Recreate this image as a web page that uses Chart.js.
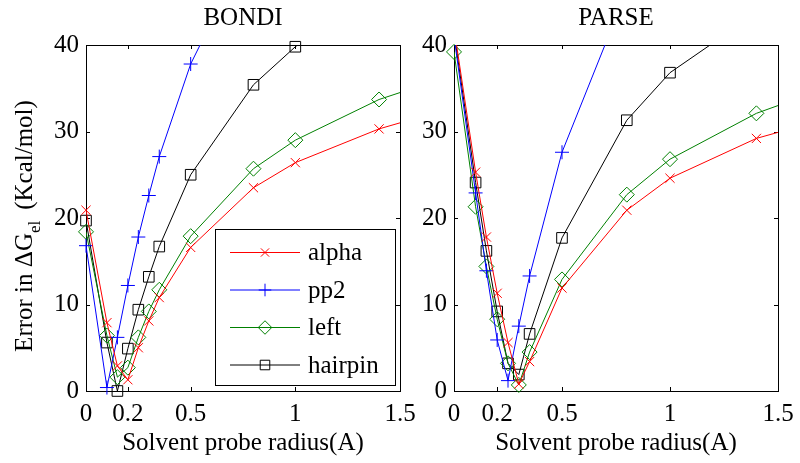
<!DOCTYPE html>
<html>
<head>
<meta charset="utf-8">
<script src="https://cdn.jsdelivr.net/npm/chart.js@4.4.0/dist/chart.umd.min.js"></script>
<style>
  html, body { margin: 0; padding: 0; background: #fff; }
  #wrap { position: relative; width: 800px; height: 463px; }
  canvas { position: absolute; left: 0; top: 0; }
</style>
</head>
<body>
<div id="wrap">
  <canvas id="bondi" width="800" height="463"></canvas>
  <canvas id="parse" width="800" height="463"></canvas>
</div>
<script>
// probe radius (A) where errors were computed
const radii = [0, 0.1, 0.15, 0.2, 0.25, 0.3, 0.35, 0.5, 0.8, 1, 1.4, 2];
const xTicks = [0, 0.2, 0.5, 1, 1.5];
const yTicks = [0, 10, 20, 30, 40];
const seriesNames = ['alpha', 'pp2', 'left', 'hairpin'];

// BONDI radii
const bondiAlpha   = [20.9, 7.9, 2.9, 1.3, 5.0, 8.1, 10.8, 16.6, 23.5, 26.4, 30.3, 34.5];
const bondiPp2     = [16.8, 0.4, 6.2, 12.2, 17.8, 22.6, 27.1, 37.8, 52.5, null, null, null];
const bondiLeft    = [18.4, 6.4, 1.6, 2.7, 6.2, 9.2, 11.7, 17.9, 25.7, 29.0, 33.7, 38.5];
const bondiHairpin = [19.7, 5.6, 0.0, 4.9, 9.4, 13.2, 16.7, 25.0, 35.4, 39.8, 47.0, null];

// PARSE radii
const parseAlpha   = [42.0, 25.3, 17.8, 11.3, 5.6, 0.8, 3.4, 11.9, 20.9, 24.6, 29.2, 33.4];
const parsePp2     = [41.0, 22.9, 13.9, 5.9, 1.2, 7.5, 13.3, 27.6, 46.3, null, null, null];
const parseLeft    = [39.2, 21.3, 14.4, 8.3, 3.2, 0.7, 4.5, 12.9, 22.7, 26.8, 32.1, 37.5];
const parseHairpin = [41.5, 24.1, 16.2, 9.2, 3.2, 1.9, 6.6, 17.7, 31.3, 36.8, 43.7, null];

const FONT = 'Liberation Serif';
const styles = {
  alpha:   { color: '#ff0000', point: 'crossRot', r: 6.5 },
  pp2:     { color: '#0000ff', point: 'cross',    r: 7 },
  left:    { color: '#008000', point: 'rectRot',  r: 7.5 },
  hairpin: { color: '#000000', point: 'rect',     r: 7.5 }
};

// small marker painter used by the legend
function drawMarker(ctx, style, x, y, r) {
  ctx.beginPath();
  if (style === 'crossRot') {
    const d = r * Math.SQRT1_2;
    ctx.moveTo(x - d, y - d); ctx.lineTo(x + d, y + d);
    ctx.moveTo(x - d, y + d); ctx.lineTo(x + d, y - d);
  } else if (style === 'cross') {
    ctx.moveTo(x - r, y); ctx.lineTo(x + r, y);
    ctx.moveTo(x, y - r); ctx.lineTo(x, y + r);
  } else if (style === 'rectRot') {
    ctx.moveTo(x - r, y); ctx.lineTo(x, y - r); ctx.lineTo(x + r, y); ctx.lineTo(x, y + r);
    ctx.closePath();
  } else {
    const s = r * Math.SQRT1_2;
    ctx.rect(x - s, y - s, 2 * s, 2 * s);
  }
  ctx.stroke();
}

// box with inward ticks, title, y label and legend
const framePlugin = {
  id: 'frame',
  beforeDatasetsDraw(chart) {
    const ctx = chart.ctx;
    const a = chart.chartArea;
    const xs = chart.scales.x, ys = chart.scales.y;
    ctx.save();
    ctx.strokeStyle = '#000';
    ctx.lineWidth = 1;
    ctx.strokeRect(Math.round(a.left) + 0.5, Math.round(a.top) + 0.5,
      Math.round(a.right - a.left), Math.round(a.bottom - a.top));
    ctx.beginPath();
    xTicks.forEach(v => {
      const px = Math.round(xs.getPixelForValue(v)) + 0.5;
      ctx.moveTo(px, a.bottom); ctx.lineTo(px, a.bottom - 4);
      ctx.moveTo(px, a.top); ctx.lineTo(px, a.top + 4);
    });
    yTicks.forEach(v => {
      const py = Math.round(ys.getPixelForValue(v)) + 0.5;
      ctx.moveTo(a.left, py); ctx.lineTo(a.left + 4, py);
      ctx.moveTo(a.right, py); ctx.lineTo(a.right - 4, py);
    });
    ctx.stroke();
    ctx.restore();
  },
  afterDraw(chart, args, opts) {
    const ctx = chart.ctx;
    const a = chart.chartArea;
    ctx.save();
    ctx.fillStyle = '#000';
    ctx.font = '25px "' + FONT + '"';
    ctx.textAlign = 'center';
    ctx.textBaseline = 'alphabetic';
    ctx.fillText(opts.title, (a.left + a.right) / 2, 25);

    if (opts.yLabel) {
      const big = '25px "' + FONT + '"', small = '17px "' + FONT + '"';
      const p1 = 'Error in \u0394G', p2 = 'el', p3 = '(Kcal/mol)';
      ctx.font = big; const w1 = ctx.measureText(p1).width, w3 = ctx.measureText(p3).width;
      ctx.font = small; const w2 = ctx.measureText(p2).width;
      const gap = 11;
      const total = w1 + w2 + gap + w3;
      ctx.translate(32, 226);
      ctx.rotate(-Math.PI / 2);
      ctx.textAlign = 'left';
      let x = -total / 2;
      ctx.font = big; ctx.fillText(p1, x, 0); x += w1;
      ctx.font = small; ctx.fillText(p2, x, 8); x += w2 + gap;
      ctx.font = big; ctx.fillText(p3, x, 0);
      ctx.setTransform(1, 0, 0, 1, 0, 0);
    }

    if (opts.legend) {
      const bx = a.right - 185, by = a.top + 184, bw = 180, bh = 156;
      ctx.fillStyle = '#fff';
      ctx.fillRect(bx, by, bw, bh);
      ctx.strokeStyle = '#000';
      ctx.lineWidth = 1;
      ctx.strokeRect(bx + 0.5, by + 0.5, bw, bh);
      ctx.font = '25px "' + FONT + '"';
      ctx.textAlign = 'left';
      ctx.textBaseline = 'middle';
      seriesNames.forEach((name, i) => {
        const st = styles[name];
        const y = by + 23.5 + i * 37.5;
        ctx.strokeStyle = st.color;
        ctx.beginPath();
        ctx.moveTo(bx + 15, y); ctx.lineTo(bx + 85, y);
        ctx.stroke();
        drawMarker(ctx, st.point, bx + 50, y, st.r * 0.9);
        ctx.fillStyle = '#000';
        ctx.fillText(name, bx + 93, y + 1);
      });
    }
    ctx.restore();
  }
};

function buildDatasets(values) {
  const sets = [];
  seriesNames.forEach((name, i) => {
    const st = styles[name];
    const pts = radii.map((x, k) => ({ x: x, y: values[i][k] }));
    sets.push({
      label: name,
      data: pts,
      borderColor: st.color,
      borderWidth: 1,
      pointRadius: 0,
      spanGaps: false
    });
    sets.push({
      label: name + ' markers',
      data: pts.filter(p => p.y !== null && p.y <= 40 && p.x <= 1.5),
      showLine: false,
      clip: false,
      borderColor: st.color,
      backgroundColor: 'rgba(0,0,0,0)',
      pointStyle: st.point,
      pointRadius: st.r,
      pointBorderWidth: 1,
      pointHoverRadius: st.r
    });
  });
  return sets;
}

function makePanel(id, title, values, pad, yLabel, legend) {
  return new Chart(document.getElementById(id), {
    type: 'line',
    data: { datasets: buildDatasets(values) },
    options: {
      responsive: false,
      devicePixelRatio: 1,
      animation: false,
      layout: { padding: pad },
      plugins: {
        legend: { display: false },
        tooltip: { enabled: false },
        frame: { title: title, yLabel: yLabel, legend: legend }
      },
      scales: {
        x: {
          type: 'linear',
          min: 0, max: 1.5,
          grid: { display: false, drawTicks: false },
          border: { display: false },
          afterBuildTicks: s => { s.ticks = xTicks.map(v => ({ value: v })); },
          afterFit: s => { s.height = 72; s.paddingLeft = 0; s.paddingRight = 0; },
          ticks: {
            autoSkip: false, maxRotation: 0, padding: 8, color: '#000',
            font: { family: FONT, size: 25 },
            callback: v => String(v)
          },
          title: {
            display: true, text: 'Solvent probe radius(A)', color: '#000',
            font: { family: FONT, size: 25 }, padding: { top: 0, bottom: 5 }
          }
        },
        y: {
          min: 0, max: 40,
          grid: { display: false, drawTicks: false },
          border: { display: false },
          afterBuildTicks: s => { s.ticks = yTicks.map(v => ({ value: v })); },
          afterFit: s => { s.width = 50; },
          ticks: {
            padding: 7, color: '#000', font: { family: FONT, size: 25 },
            callback: v => String(v)
          }
        }
      }
    },
    plugins: [framePlugin]
  });
}

makePanel('bondi', 'BONDI', [bondiAlpha, bondiPp2, bondiLeft, bondiHairpin],
  { left: 36, right: 400, top: 45, bottom: 0 }, true, true);
makePanel('parse', 'PARSE', [parseAlpha, parsePp2, parseLeft, parseHairpin],
  { left: 404, right: 22, top: 45, bottom: 0 }, false, false);
</script>
</body>
</html>
